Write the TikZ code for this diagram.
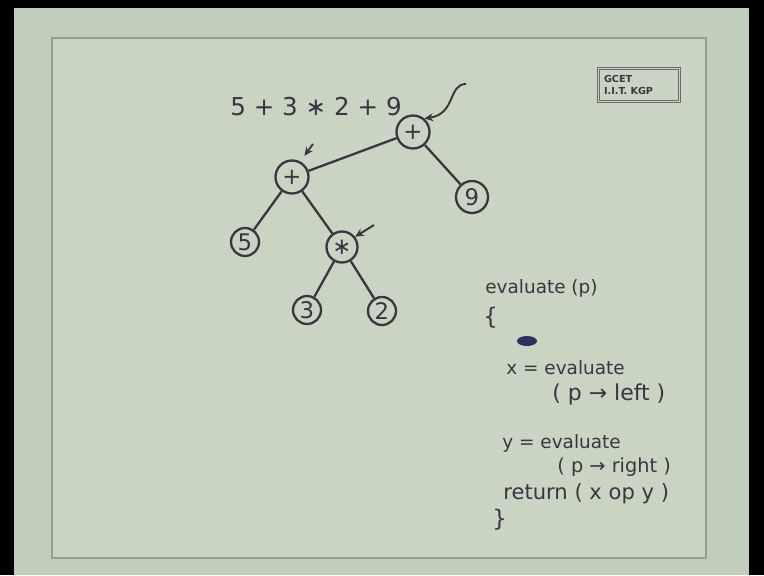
\documentclass[tikz,border=0pt]{standalone}
\usepackage{xcolor}
\usepackage{fontspec}
\setmainfont{DejaVu Sans}
\usetikzlibrary{arrows.meta}

\definecolor{paper}{RGB}{194,206,188}
\definecolor{sheet}{RGB}{201,212,195}
\definecolor{ink}{RGB}{52,56,64}
\definecolor{frameline}{RGB}{148,160,144}

\begin{document}
\begin{tikzpicture}[x=0.02cm,y=-0.02cm,
    knot/.style={circle,draw=ink,line width=1.3pt,inner sep=0pt,minimum size=0.66cm,text=ink,font=\fontsize{13}{13}\selectfont},
    leaf/.style={knot,minimum size=0.56cm},
    hand/.style={text=ink,inner sep=0pt,anchor=west,font=\fontsize{10.5}{12}\selectfont},
    link/.style={draw=ink,line width=1.3pt},
    pointer/.style={draw=ink,line width=1.1pt,-{Stealth[length=5pt,width=4.5pt]}}]
    \useasboundingbox (0,0) rectangle (764,575);

    % screen and sheet
    \fill[black] (0,0) rectangle (764,575);
    \fill[paper] (14,8) rectangle (749,575);
    \fill[sheet] (52,38) rectangle (706,558);
    \draw[frameline,line width=1pt] (52,38) rectangle (706,558);

    % stamp in the corner
    \node[draw=ink!75,double=sheet,double distance=1pt,line width=0.6pt,
          minimum width=1.62cm,minimum height=0.66cm,text width=1.4cm,align=left,
          inner sep=1pt,text=ink,font=\fontsize{5.5}{6.5}\selectfont\bfseries] (stamp) at (639,85) {GCET\\I.I.T. KGP};

    % expression
    \node[hand,anchor=center,font=\fontsize{14}{14}\selectfont] (expr) at (316,107) {5 + 3 ∗ 2 + 9};

    % tree nodes
    \node[knot] (root) at (413,132) {+};
    \node[knot] (plusL) at (292,177) {+};
    \node[leaf,minimum size=0.64cm] (nine) at (472,197) {9};
    \node[leaf] (five) at (245,242) {5};
    \node[knot,minimum size=0.62cm] (times) at (342,247) {∗};
    \node[leaf] (three) at (307,310) {3};
    \node[leaf] (two) at (382,311) {2};

    % edges
    \draw[link] (root) -- (plusL);
    \draw[link] (root) -- (nine);
    \draw[link] (plusL) -- (five);
    \draw[link] (plusL) -- (times);
    \draw[link] (times) -- (three);
    \draw[link] (times) -- (two);

    % pointers to the nodes
    \coordinate (tailR) at (466,84);
    \coordinate (tailL) at (313,144);
    \coordinate (tailT) at (374,225);
    \draw[pointer] (tailR) .. controls (448,84) and (456,114) .. (root.50);
    \draw[pointer,shorten >=0.14cm] (tailL) -- (plusL.62);
    \draw[pointer] (tailT) -- (times.38);

    % the function
    \node[hand] (head) at (485,288) {evaluate (p)};
    \node[hand,font=\fontsize{13}{13}\selectfont] (open) at (483,318) {\{};
    \fill[ink!85!blue] (527,341) ellipse (0.2cm and 0.1cm);
    \node[hand] (xline) at (506,368) {x = evaluate};
    \node[hand,font=\fontsize{12.5}{13}\selectfont] (xarg) at (552,394) {( p → left )};
    \node[hand] (yline) at (502,443) {y = evaluate};
    \node[hand,font=\fontsize{11}{12}\selectfont] (yarg) at (557,467) {( p → right )};
    \node[hand,font=\fontsize{12}{13}\selectfont] (ret) at (503,494) {return ( x op y )};
    \node[hand,font=\fontsize{13}{13}\selectfont] (close) at (492,520) {\}};

\end{tikzpicture}
\end{document}
